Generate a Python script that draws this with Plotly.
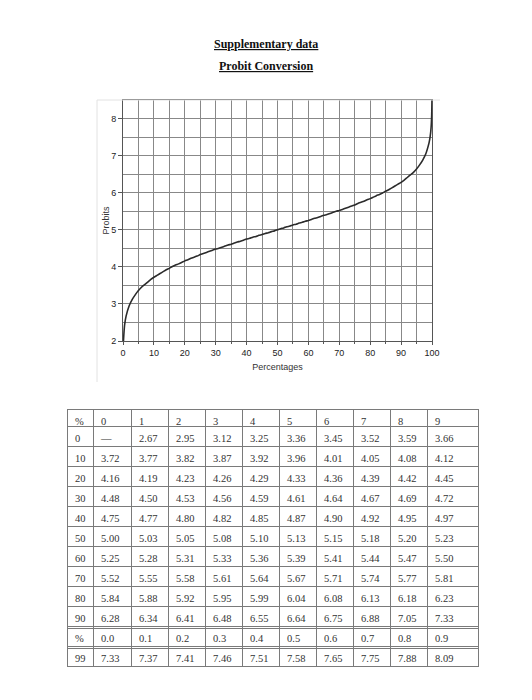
import plotly.graph_objects as go

# ---------------- data ----------------
decade_rows = [0, 10, 20, 30, 40, 50, 60, 70, 80, 90]
unit_cols = [0, 1, 2, 3, 4, 5, 6, 7, 8, 9]
probit_0 = [None, 2.67, 2.95, 3.12, 3.25, 3.36, 3.45, 3.52, 3.59, 3.66]
probit_10 = [3.72, 3.77, 3.82, 3.87, 3.92, 3.96, 4.01, 4.05, 4.08, 4.12]
probit_20 = [4.16, 4.19, 4.23, 4.26, 4.29, 4.33, 4.36, 4.39, 4.42, 4.45]
probit_30 = [4.48, 4.50, 4.53, 4.56, 4.59, 4.61, 4.64, 4.67, 4.69, 4.72]
probit_40 = [4.75, 4.77, 4.80, 4.82, 4.85, 4.87, 4.90, 4.92, 4.95, 4.97]
probit_50 = [5.00, 5.03, 5.05, 5.08, 5.10, 5.13, 5.15, 5.18, 5.20, 5.23]
probit_60 = [5.25, 5.28, 5.31, 5.33, 5.36, 5.39, 5.41, 5.44, 5.47, 5.50]
probit_70 = [5.52, 5.55, 5.58, 5.61, 5.64, 5.67, 5.71, 5.74, 5.77, 5.81]
probit_80 = [5.84, 5.88, 5.92, 5.95, 5.99, 6.04, 6.08, 6.13, 6.18, 6.23]
probit_90 = [6.28, 6.34, 6.41, 6.48, 6.55, 6.64, 6.75, 6.88, 7.05, 7.33]
tenth_cols = [0.0, 0.1, 0.2, 0.3, 0.4, 0.5, 0.6, 0.7, 0.8, 0.9]
probit_99 = [7.33, 7.37, 7.41, 7.46, 7.51, 7.58, 7.65, 7.75, 7.88, 8.09]

# curve end points estimated from the drawn curve (outside the table range)
curve_low_pct = [0.15, 0.5]
curve_low_probit = [2.0, 2.42]
curve_high_pct = [99.95, 99.99]
curve_high_probit = [8.3, 8.5]

x_ticks = [0, 10, 20, 30, 40, 50, 60, 70, 80, 90, 100]
y_ticks = [2, 3, 4, 5, 6, 7, 8]

probit_rows = [probit_0, probit_10, probit_20, probit_30, probit_40,
               probit_50, probit_60, probit_70, probit_80, probit_90]

# ---------------- curve series ----------------
curve_x = list(curve_low_pct)
curve_y = list(curve_low_probit)
for r, vals in zip(decade_rows, probit_rows):
    for c, v in zip(unit_cols, vals):
        if v is not None:
            curve_x.append(r + c)
            curve_y.append(v)
for t, v in zip(tenth_cols, probit_99):
    if t > 0:
        curve_x.append(99 + t)
        curve_y.append(v)
curve_x += curve_high_pct
curve_y += curve_high_probit

W, H = 532, 700
OFF = 8  # page body margin of the html page
def px(xp):
    return (xp - OFF) / W
def py(yp):
    return 1 - (yp - OFF) / H

fig = go.Figure()
fig.add_trace(go.Scatter(
    x=curve_x, y=curve_y, mode="lines",
    line=dict(color="#2b2b2b", width=1.6, shape="spline", smoothing=0.6),
    hoverinfo="skip", showlegend=False))

# ---------------- table ----------------
col0 = [str(r) for r in decade_rows] + ["%", "99"]
columns = [col0]
for j in range(10):
    col = []
    for vals in probit_rows:
        v = vals[j]
        col.append("—" if v is None else f"{v:.2f}")
    col.append(f"{tenth_cols[j]:.1f}")
    col.append(f"{probit_99[j]:.2f}")
    columns.append(col)
header = ["%"] + [str(c) for c in unit_cols]

TABLE_TOP = 409
HEAD_H = 17
ROW_H = 20
fig.add_trace(go.Table(
    domain=dict(x=[px(67), px(478)], y=[py(695), py(TABLE_TOP)]),
    columnwidth=[26, 38, 37, 37, 37, 37, 37, 37, 37, 37, 51],
    header=dict(values=header, align="left", height=HEAD_H,
                line=dict(color="#7a7a7a", width=1), fill=dict(color="white"),
                font=dict(family="Liberation Serif", size=10.5, color="#333")),
    cells=dict(values=columns, align="left", height=ROW_H,
               line=dict(color="#7a7a7a", width=1), fill=dict(color="white"),
               font=dict(family="Liberation Serif", size=10.5, color="#333")),
))

y_after_90 = TABLE_TOP + HEAD_H + 10 * ROW_H
y_after_pct = y_after_90 + ROW_H
shapes = [
    # faint outer frame of the chart picture
    dict(type="line", xref="paper", yref="paper", x0=px(97), x1=px(440), y0=py(100), y1=py(100),
         line=dict(color="#e2e2e2", width=1)),
    dict(type="line", xref="paper", yref="paper", x0=px(97), x1=px(97), y0=py(100), y1=py(382),
         line=dict(color="#e2e2e2", width=1)),
    # double rules in the table
    dict(type="line", xref="paper", yref="paper", x0=px(67), x1=px(478),
         y0=py(y_after_90 + 2.5), y1=py(y_after_90 + 2.5),
         line=dict(color="#7a7a7a", width=1), layer="above"),
    dict(type="line", xref="paper", yref="paper", x0=px(67), x1=px(478),
         y0=py(y_after_pct + 2.5), y1=py(y_after_pct + 2.5),
         line=dict(color="#7a7a7a", width=1), layer="above"),
]

fig.update_layout(
    width=W, height=H, margin=dict(l=0, r=0, t=0, b=0),
    paper_bgcolor="white", plot_bgcolor="white", showlegend=False,
    shapes=shapes,
    annotations=[
        dict(text="<b><u>Supplementary data</u></b>", x=px(266), y=py(44), xref="paper", yref="paper",
             xanchor="center", yanchor="middle",
             showarrow=False, font=dict(family="Liberation Serif", size=12, color="#111")),
        dict(text="<b><u>Probit Conversion</u></b>", x=px(266), y=py(66), xref="paper", yref="paper",
             xanchor="center", yanchor="middle",
             showarrow=False, font=dict(family="Liberation Serif", size=12, color="#111")),
    ],
    xaxis=dict(domain=[px(123), px(432)], range=[0, 100], tickvals=x_ticks,
               showgrid=True, gridcolor="#888", gridwidth=1,
               minor=dict(dtick=5, showgrid=True, gridcolor="#888", gridwidth=1,
                          ticks="outside", ticklen=2, tickcolor="#555"),
               showline=True, linecolor="#555", linewidth=1, mirror=True,
               ticks="outside", ticklen=3, tickcolor="#555", zeroline=False,
               tickfont=dict(family="Liberation Sans", size=9, color="#222"),
               title=dict(text="Percentages", standoff=6,
                          font=dict(family="Liberation Sans", size=9, color="#333")),
               anchor="y", automargin=False, fixedrange=True),
    yaxis=dict(domain=[py(341), py(100)], range=[2, 8.5], tickvals=y_ticks,
               showgrid=True, gridcolor="#888", gridwidth=1,
               minor=dict(dtick=0.5, showgrid=True, gridcolor="#888", gridwidth=1),
               showline=True, linecolor="#555", linewidth=1, mirror=True,
               ticks="outside", ticklen=4, tickcolor="#555", zeroline=False,
               tickfont=dict(family="Liberation Sans", size=9, color="#222"),
               title=dict(text="Probits", standoff=0,
                          font=dict(family="Liberation Sans", size=9, color="#333")),
               anchor="x", automargin=False, fixedrange=True),
)

fig.write_html("out.html")
